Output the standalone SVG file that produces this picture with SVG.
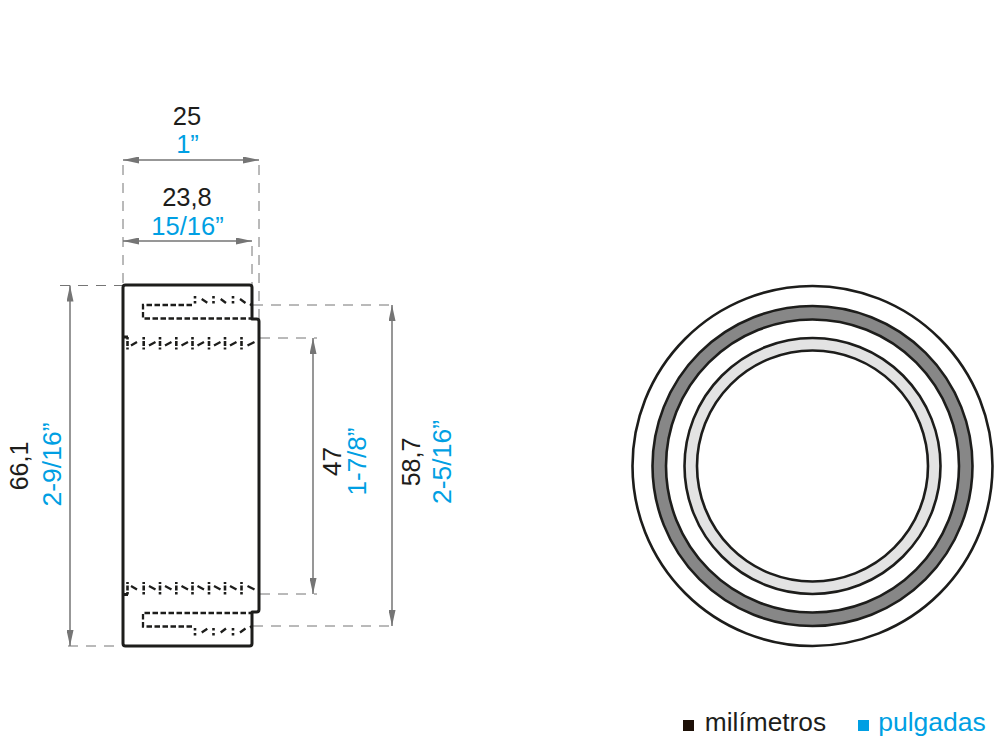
<svg xmlns="http://www.w3.org/2000/svg" xmlns:xlink="http://www.w3.org/1999/xlink" width="1000" height="750" viewBox="0 0 1000 750">
<style>
text{font-family:"Liberation Sans",Arial,sans-serif;font-size:25.5px;text-anchor:middle}
.k{fill:#1d1d1b}.b{fill:#009fe3}
.ext{fill:none;stroke:#757575;stroke-width:1;stroke-dasharray:10 8}
.dim{fill:none;stroke:#757575;stroke-width:1.5;marker-start:url(#a);marker-end:url(#a)}
.o{fill:none;stroke:#1d1d1b;stroke-width:3;stroke-linejoin:round}
.h{fill:none;stroke:#1d1d1b;stroke-width:2.300;stroke-dasharray:5.500 2.500}
.d{fill:none;stroke:#1d1d1b;stroke-width:2.300}
.v{fill:none;stroke:#1d1d1b;stroke-width:2.600;stroke-dasharray:2.500 1.500 5 1.500 2.500}
.w{fill:none;stroke:#1d1d1b;stroke-width:2.600;stroke-dasharray:2.500 2.500}
.c{stroke:#1d1d1b;stroke-width:2.600}
</style>
<defs>
<marker id="a" viewBox="0 0 16 7" refX="16" refY="3.500" markerUnits="userSpaceOnUse" markerWidth="16" markerHeight="7" orient="auto-start-reverse"><path d="M16 3.500L0 0V7Z" fill="#757575"/></marker>
<g id="hidden">
<path class="h" d="M192 305H143V318.500H252"/>
<path class="w" d="M195 296V305.500M213.500 296V305.500M233 296V305.500"/>
<path class="d" d="M201.700 299L207.300 302.700M220.700 299L226 303M240 299L245.500 303M250 304L252 305.500"/>
<path class="v" d="M127.500 337V349.500M143.700 337V349.500M160 337V349.500M176.300 337V349.500M192.500 337V349.500M209 337V349.500M225 337V349.500M241.500 337V349.500"/>
<path class="d" d="M131 345.500L137 342M149 345.500L155.500 342M165 345.500L171.500 342M181.500 345.500L188 342M197.500 345.500L204 342M214 345.500L220.500 342M230 345.500L236.500 342M247.500 345.500L254.500 342"/>
</g>
</defs>
<g id="connectors">
<path class="ext" d="M123 165V285M259 165V319M252 246V285M60 285.500H122M68 646H122M253 305H396M260 338H317M260 594H317M253 626H396"/>
<path class="dim" d="M123 160H259"/>
<path class="dim" d="M123 241H252"/>
<path class="dim" d="M70 285.500V646"/>
<path class="dim" d="M313 338V594"/>
<path class="dim" d="M392 305V626"/>
</g>
<g id="side-view">
<path class="o" d="M125.500 285H249.500Q252 285 252 287.500V319H256.500Q259 319 259 321.500V609.500Q259 612 256.500 612H252V643.500Q252 646 249.500 646H125.500Q123 646 123 643.500V287.500Q123 285 125.500 285Z"/>
<path class="o" d="M123 337H128M123 594.500H128"/>
<use xlink:href="#hidden" href="#hidden"/>
<use xlink:href="#hidden" href="#hidden" transform="matrix(1 0 0 -1 0 931.500)"/>
</g>
<g id="front-view">
<circle class="c" cx="812.500" cy="466" r="180" fill="#fff"/>
<circle class="c" cx="812.500" cy="466" r="160" fill="#878787"/>
<circle class="c" cx="812.500" cy="466" r="146.500" fill="#fff"/>
<circle class="c" cx="812.500" cy="466" r="128" fill="#e3e3e3"/>
<circle class="c" cx="812.500" cy="466" r="115.500" fill="#fff"/>
</g>
<g id="labels">
<text class="k" x="187" y="125">25</text>
<text class="b" x="187.500" y="153">1”</text>
<text class="k" x="187" y="206">23,8</text>
<text class="b" x="187.500" y="235">15/16”</text>
<text class="k" style="font-size:25px" transform="translate(27.500 466) rotate(-90)">66,1</text>
<text class="b" style="font-size:26.500px" transform="translate(61 464.500) rotate(-90)">2-9/16”</text>
<text class="k" style="font-size:26px" transform="translate(340.500 461.500) rotate(-90)">47</text>
<text class="b" style="font-size:26px" transform="translate(365.500 461.500) rotate(-90)">1-7/8”</text>
<text class="k" style="font-size:25px" transform="translate(420 462) rotate(-90)">58,7</text>
<text class="b" style="font-size:26.500px" transform="translate(450.500 462) rotate(-90)">2-5/16”</text>
</g>
<g id="legend">
<rect x="683" y="720" width="11" height="11" fill="#1d1007"/>
<text class="k" style="font-size:26.300px" x="765.500" y="731">milímetros</text>
<rect x="858" y="720" width="11" height="11" fill="#009fe3"/>
<text class="b" style="font-size:26.500px" x="932" y="731">pulgadas</text>
</g>
</svg>
